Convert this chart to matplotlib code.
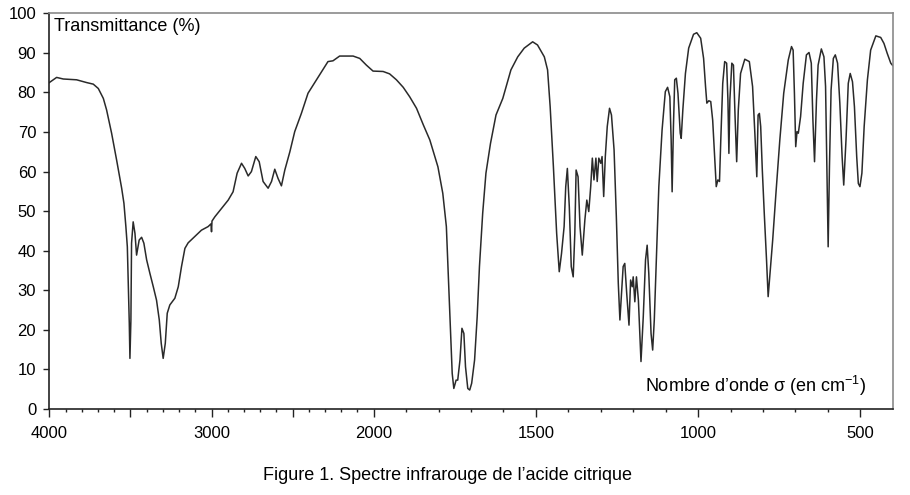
import numpy as np
import matplotlib.pyplot as plt
from matplotlib.ticker import FixedLocator, FixedFormatter

plt.rcParams["font.family"] = ["Liberation Sans", "DejaVu Sans"]
plt.rcParams["mathtext.fontset"] = "custom"
plt.rcParams["mathtext.rm"] = "Liberation Sans"

# spectre : nombre d'onde (cm-1) / transmittance (%)
wavenumber = [
    4000, 3955, 3914, 3832, 3770, 3729, 3698, 3667, 3647, 3616, 3585, 3554,
    3540, 3528, 3519, 3513, 3507, 3503, 3497, 3493, 3483, 3472, 3462, 3446,
    3431, 3417, 3400, 3380, 3359, 3339, 3322, 3310, 3298, 3285, 3273, 3257,
    3226, 3205, 3185, 3164, 3144, 3103, 3062, 3021, 3003, 3000, 2997, 2979,
    2938, 2897, 2867, 2842, 2815, 2795, 2774, 2754, 2727, 2706, 2682, 2651,
    2630, 2610, 2590, 2569, 2548, 2517, 2487, 2446, 2405, 2353, 2282, 2251,
    2210, 2127, 2086, 2045, 2004, 1971, 1951, 1930, 1909, 1889, 1868, 1847,
    1827, 1802, 1787, 1776, 1769, 1763, 1758, 1753, 1746, 1741, 1734, 1728,
    1722, 1717, 1710, 1704, 1698, 1689, 1681, 1674, 1664, 1654, 1640, 1623,
    1602, 1577, 1556, 1536, 1510, 1495, 1474, 1464, 1456, 1446, 1436, 1428,
    1421, 1413, 1408, 1403, 1397, 1391, 1385, 1380, 1376, 1370, 1364, 1357,
    1349, 1343, 1337, 1331, 1326, 1321, 1315, 1311, 1306, 1300, 1296, 1291,
    1286, 1280, 1273, 1267, 1259, 1252, 1246, 1241, 1236, 1231, 1226, 1220,
    1213, 1208, 1203, 1200, 1195, 1190, 1184, 1176, 1169, 1162, 1157, 1152,
    1145, 1140, 1135, 1128, 1121, 1111, 1101, 1094, 1087, 1083, 1080, 1076,
    1072, 1067, 1062, 1055, 1052, 1047, 1039, 1029, 1014, 1004, 992, 983,
    977, 973, 967, 961, 955, 949, 944, 939, 934, 930, 924, 918,
    912, 908, 905, 902, 896, 891, 886, 881, 876, 869, 856, 842,
    832, 825, 819, 815, 811, 807, 802, 796, 789, 784, 779, 770,
    760, 748, 736, 722, 712, 707, 703, 699, 695, 691, 684, 676,
    666, 658, 651, 646, 641, 635, 630, 620, 612, 607, 603, 599,
    595, 590, 583, 577, 570, 563, 556, 551, 544, 537, 531, 524,
    518, 511, 506, 501, 495, 488, 478, 468, 452, 437, 427, 417,
    406, 400,
]
transmittance = [
    82.5, 83.8, 83.4, 83.2, 82.5, 82.1, 81.0, 78.5, 75.6, 69.7, 62.9, 55.8,
    52.0, 46.1, 41.0, 30.9, 21.7, 12.8, 22.5, 41.9, 47.3, 44.4, 38.9, 42.7,
    43.4, 41.9, 37.7, 34.3, 30.9, 27.5, 22.5, 16.6, 12.8, 16.6, 24.2, 26.3,
    28.0, 30.9, 36.0, 40.6, 42.0, 43.6, 45.2, 46.1, 46.8, 44.8, 47.5, 48.6,
    50.7, 52.8, 54.9, 59.6, 62.1, 60.8, 58.9, 60.0, 63.8, 62.5, 57.5, 55.8,
    57.5, 60.6, 58.3, 56.4, 60.4, 65.0, 70.1, 74.7, 79.8, 83.2, 87.8, 88.0,
    89.2, 89.2, 88.6, 86.9, 85.4, 85.3, 84.7, 83.2, 81.3, 78.9, 76.0, 71.8,
    68.0, 61.2, 54.5, 46.1, 31.8, 19.1, 9.0, 5.2, 7.3, 7.3, 12.4, 20.4,
    19.1, 10.7, 5.2, 4.8, 6.5, 12.4, 23.3, 36.0, 49.5, 59.6, 67.1, 74.3,
    78.5, 85.7, 89.0, 91.2, 92.8, 92.0, 89.0, 85.7, 76.4, 61.2, 44.4, 34.7,
    39.3, 46.1, 56.2, 60.8, 51.1, 36.0, 33.4, 44.4, 60.4, 58.7, 46.1, 38.9,
    47.8, 52.8, 49.9, 56.2, 63.4, 57.9, 63.4, 57.5, 63.4, 62.1, 63.8, 53.7,
    63.8, 71.4, 76.0, 74.3, 65.5, 48.6, 31.8, 22.5, 29.2, 36.0, 36.8, 29.2,
    21.2, 32.6, 30.9, 33.4, 27.1, 33.4, 27.5, 12.0, 23.3, 37.7, 41.4, 34.3,
    19.1, 14.9, 22.5, 39.3, 56.2, 70.5, 80.2, 81.3, 78.9, 68.0, 54.9, 71.4,
    83.2, 83.6, 79.8, 69.7, 68.4, 75.6, 84.8, 91.2, 94.7, 95.1, 93.7, 88.6,
    81.5, 77.3, 77.9, 77.7, 73.0, 63.8, 56.2, 57.9, 57.5, 68.0, 82.3, 87.8,
    87.4, 78.1, 64.6, 78.1, 87.4, 86.9, 73.9, 62.5, 75.6, 84.8, 88.4, 87.8,
    81.5, 69.7, 58.7, 74.3, 74.7, 71.4, 60.4, 49.5, 37.7, 28.4, 33.4, 42.7,
    54.5, 68.0, 79.8, 88.2, 91.6, 90.7, 79.8, 66.3, 70.1, 69.7, 73.9, 82.3,
    89.5, 90.1, 87.4, 73.0, 62.5, 78.1, 86.9, 91.0, 89.0, 81.5, 61.2, 41.0,
    61.2, 80.6, 88.6, 89.5, 87.4, 77.3, 63.8, 56.6, 68.0, 82.3, 84.8, 82.7,
    76.4, 63.8, 57.0, 56.2, 59.6, 71.4, 83.2, 90.7, 94.3, 93.9, 92.4, 89.9,
    87.4, 86.8,
]

x_major = [4000, 3500, 3000, 2500, 2000, 1500, 1000, 500]
x_labels = ["4000", "", "3000", "", "2000", "1500", "1000", "500"]
y_ticks = list(range(0, 101, 10))


# echelle compressee d'un facteur 2 au-dessus de 2000 cm-1
def fwd(x):
    x = np.asarray(x, dtype=float)
    return np.where(x > 2000, 2000 + (x - 2000) / 2, x)


def inv(x):
    x = np.asarray(x, dtype=float)
    return np.where(x > 2000, 2000 + (x - 2000) * 2, x)


fig = plt.figure(figsize=(9.1, 4.95), dpi=100)
ax = fig.add_axes([0.0542, 0.1737, 0.9268, 0.7994])

ax.plot(wavenumber, transmittance, color="#2a2a2a", lw=1.1)

ax.set_xscale("function", functions=(fwd, inv))
ax.set_xlim(4000, 400)
ax.set_ylim(0, 100)

ax.xaxis.set_major_locator(FixedLocator(x_major))
ax.xaxis.set_major_formatter(FixedFormatter(x_labels))
minor = [v for v in range(500, 4000, 100) if v not in x_major]
ax.xaxis.set_minor_locator(FixedLocator(minor))
ax.set_yticks(y_ticks)

ax.tick_params(axis="x", which="major", direction="out", length=5.5, width=1.0,
               labelsize=12, pad=7, colors="#222222")
ax.tick_params(axis="x", which="minor", direction="out", length=2.5, width=1.0,
               colors="#222222")
ax.tick_params(axis="y", direction="out", length=4.5, width=1.0, labelsize=12,
               pad=5, colors="#222222")
ax.tick_params(labelcolor="black")

for side in ["left", "bottom"]:
    ax.spines[side].set_color("#222222")
    ax.spines[side].set_linewidth(1.2)
for side in ["top", "right"]:
    ax.spines[side].set_color("#8a8a8a")
    ax.spines[side].set_linewidth(1.2)

ax.text(0.005, 0.956, "Transmittance (%)", transform=ax.transAxes,
        fontsize=13, ha="left", va="baseline")
ax.text(0.968, 0.043, "Nombre d\u2019onde \u03c3 (en cm$^{\\mathrm{-1}}$)",
        transform=ax.transAxes, fontsize=13, ha="right", va="baseline")

fig.text(0.4918, 0.0303, "Figure 1. Spectre infrarouge de l\u2019acide citrique",
         fontsize=13, ha="center", va="baseline")

fig.savefig("out.png", dpi=100)
